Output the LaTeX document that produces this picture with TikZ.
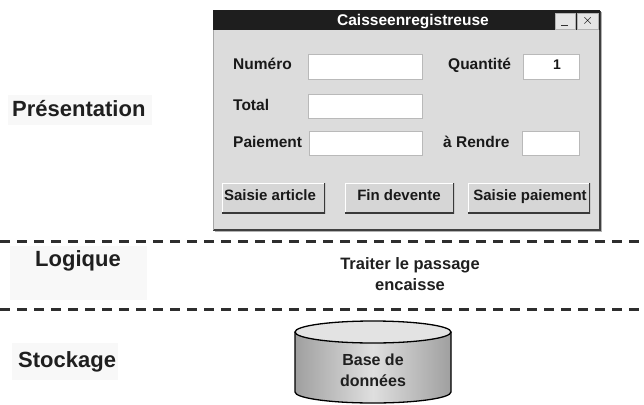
\documentclass[tikz,border=0pt]{standalone}
\usepackage{fontspec}
\setmainfont{Liberation Sans}
\definecolor{winbg}{HTML}{DCDCDC}
\definecolor{titlebg}{HTML}{1E1E1E}
\definecolor{btnbg}{HTML}{D6D6D6}
\definecolor{dashc}{HTML}{2E2E2E}
\definecolor{faint}{HTML}{F8F8F8}
\begin{document}
\begin{tikzpicture}[x=1pt,y=-1pt,
  seclbl/.style={font=\bfseries\fontsize{22}{24}\selectfont, anchor=base west, inner sep=0pt, text=black!88},
  winlbl/.style={font=\bfseries\fontsize{15.5}{18}\selectfont, anchor=base west, inner sep=0pt, text=black!90},
  field/.style={draw=gray!55, line width=0.8pt, fill=white, anchor=north west, inner sep=0pt,
    path picture={\draw[gray!60,line width=2pt] (path picture bounding box.south west) -- (path picture bounding box.north west) -- (path picture bounding box.north east);}},
  btn/.style={fill=btnbg, anchor=north west, inner sep=0pt,
    font=\bfseries\fontsize{15}{18}\selectfont, text=black!90,
    path picture={\draw[white,line width=2pt] (path picture bounding box.south west) -- (path picture bounding box.north west) -- (path picture bounding box.north east);
      \draw[gray!45!black,line width=3pt] (path picture bounding box.north east) -- (path picture bounding box.south east) -- (path picture bounding box.south west);}},
  sep/.style={dashc, line width=3pt, dash pattern=on 10pt off 7pt},
  midtxt/.style={font=\bfseries\fontsize{16.5}{19}\selectfont, anchor=base, inner sep=0pt, text=black!88},
  dbtxt/.style={font=\bfseries\fontsize{16}{19}\selectfont, anchor=base, inner sep=0pt, text=black!88}]
\useasboundingbox (0,0) rectangle (644,404);
\fill[white] (0,0) rectangle (644,404);

% faint label backgrounds
\fill[faint] (8,95) rectangle (152,125);
\fill[faint] (10,246) rectangle (147,300);
\fill[faint] (12,343) rectangle (118,380);

% window
\fill[gray!60] (215,12) rectangle (602,232);
\fill[winbg] (213,10) rectangle (600,230);
\draw[gray!50!black, line width=1.2pt] (600,11) -- (600,230) -- (213,230);
\draw[gray!70, line width=0.8pt] (213,230) -- (213,10);
\fill[titlebg] (213,10) rectangle (600,30);
\node[font=\bfseries\fontsize{15.5}{18}\selectfont, text=white, anchor=base, inner sep=0pt] (title) at (413,26) {Caisseenregistreuse};
\node[fill=gray!20, draw=gray!60, minimum width=20pt, minimum height=16pt, anchor=north west, inner sep=0pt] (minb) at (555,13) {};
\draw[black!80, line width=1.2pt] ([xshift=-4pt,yshift=-4pt]minb.center) -- ([xshift=3pt,yshift=-4pt]minb.center);
\node[fill=gray!20, draw=gray!60, minimum width=21pt, minimum height=16pt, anchor=north west, inner sep=0pt, font=\fontsize{15}{16}\selectfont] (closeb) at (577,13) {$\times$};

% labels
\node[winlbl] (lnum) at (233,70) {Numéro};
\node[winlbl] (lqte) at (448,70) {Quantité};
\node[winlbl] (ltot) at (233,110) {Total};
\node[winlbl] (lpai) at (233,147) {Paiement};
\node[winlbl] (lrend) at (443,147) {à Rendre};

% fields
\node[field, minimum width=114pt, minimum height=25pt] (fnum) at (308,54) {};
\node[field, minimum width=56pt, minimum height=25pt] (fqte) at (523,54) {};
\node[winlbl, anchor=base, font=\bfseries\fontsize{14}{16}\selectfont] (qval) at (557,70) {1};
\node[field, minimum width=114pt, minimum height=24pt] (ftot) at (308,94) {};
\node[field, minimum width=113pt, minimum height=24pt] (fpai) at (309,131) {};
\node[field, minimum width=57pt, minimum height=24pt] (frend) at (522,131) {};

% buttons
\node[btn, minimum width=103pt, minimum height=30pt] (b1) at (222,183) {};
\node[winlbl, anchor=base, font=\bfseries\fontsize{15}{18}\selectfont] (b1t) at (270,200) {Saisie article};
\node[btn, minimum width=109pt, minimum height=30pt] (b2) at (345,183) {};
\node[winlbl, anchor=base, font=\bfseries\fontsize{15}{18}\selectfont] (b2t) at (399,200) {Fin devente};
\node[btn, minimum width=122pt, minimum height=30pt] (b3) at (468,183) {};
\node[winlbl, anchor=base, font=\bfseries\fontsize{15}{18}\selectfont] (b3t) at (530,200) {Saisie paiement};

% section labels
\node[seclbl] (pres) at (12,116) {Présentation};
\node[seclbl] (logi) at (35,266) {Logique};
\node[seclbl] (stock) at (18,367) {Stockage};

% separators
\coordinate (s1a) at (0,241); \coordinate (s1b) at (644,241);
\coordinate (s2a) at (0,309); \coordinate (s2b) at (644,309);
\draw[sep] (s1a) -- (s1b);
\draw[sep] (s2a) -- (s2b);

% logic text
\node[midtxt] (t1) at (410,269) {Traiter le passage};
\node[midtxt] (t2) at (410,290) {encaisse};

% cylinder
\shade[left color=gray!75, right color=gray!75, middle color=gray!25]
  (295,332) -- (295,392) arc[start angle=180, end angle=0, x radius=78, y radius=11]
  -- (451,332) arc[start angle=0, end angle=180, x radius=78, y radius=11] -- cycle;
\draw[black, line width=1.3pt]
  (295,332) -- (295,392) arc[start angle=180, end angle=0, x radius=78, y radius=11]
  -- (451,332);
\draw[black, line width=1.3pt, fill=gray!22] (373,332) ellipse[x radius=78, y radius=11];
\node[dbtxt] (db1) at (373,365) {Base de};
\node[dbtxt] (db2) at (373,386) {données};
\end{tikzpicture}
\end{document}
